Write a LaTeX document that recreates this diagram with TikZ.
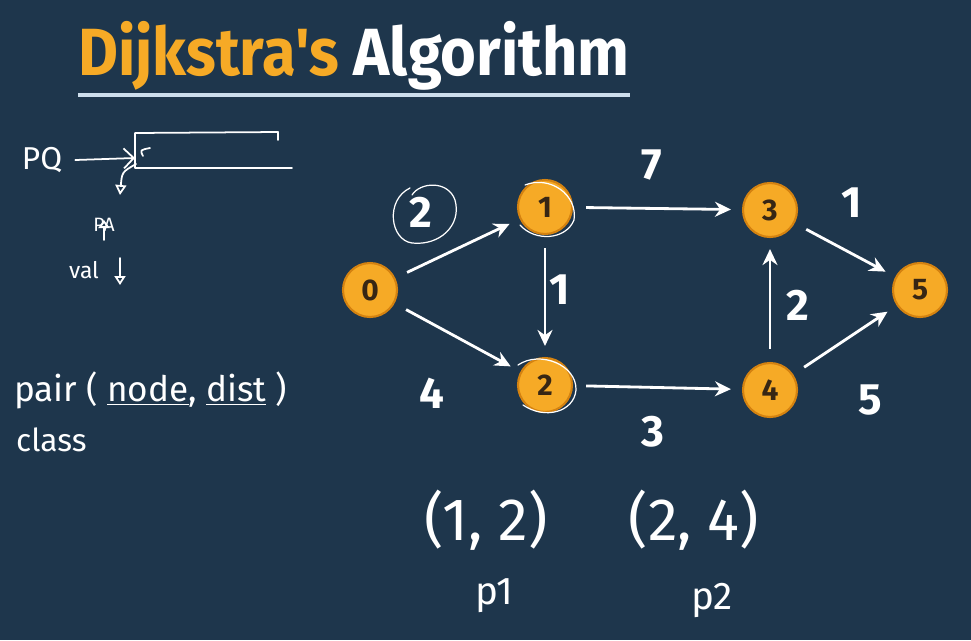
\documentclass[tikz,border=0pt]{standalone}
\usepackage{fontspec}
\setmainfont{Fira Sans}
\newfontfamily\titlefont{Fira Sans}
\usepackage{graphicx}
\usepackage{tikz}
\usetikzlibrary{arrows.meta}
\definecolor{board}{RGB}{30,54,76}
\definecolor{gold}{RGB}{246,170,38}
\definecolor{goldedge}{RGB}{212,130,16}
\definecolor{nodetext}{RGB}{55,38,20}
\definecolor{rule}{RGB}{205,222,236}

\begin{document}
\begin{tikzpicture}[x=0.02cm, y=-0.02cm,
	vertex/.style={circle, fill=gold, draw=goldedge, line width=1.2pt,
		minimum size=1.08cm, inner sep=0pt, text=nodetext,
		font=\bfseries\fontsize{17}{17}\selectfont},
	edge/.style={white, line width=1.6pt, -{Stealth[length=3.2mm,width=3mm]},
		shorten <=0.26cm, shorten >=0.22cm},
	weight/.style={white, font=\bfseries\fontsize{25}{25}\selectfont},
	ink/.style={white, line width=1pt, line cap=round, line join=round},
	hand/.style={white, font=\fontsize{18}{18}\selectfont}]
		% board
		\fill[board] (0,0) rectangle (971,640);
		\useasboundingbox (0,0) rectangle (971,640);
		% title
		\node[anchor=base west, inner sep=0pt, font=\titlefont\bfseries\fontsize{38}{40}\selectfont]
			(title) at (78,75) {\scalebox{0.92}[1]{\textcolor{gold}{Dijkstra's}
				\textcolor{white}{Algorithm}}};
		\draw[rule, line width=2.2pt] (78,95) -- (630,95);
		% priority queue sketch
		\node[hand] (pq) at (42,160) {PQ};
		\coordinate (qin) at (135,158);
		\draw[ink, -{Straight Barb[length=2mm]}] (pq.east) ++(4pt,0) -- (qin);
		\draw[ink] (278,140) -- (278,132) -- (135,133) -- (135,168) -- (292,168);
		\draw[ink] (150,148) .. controls (140,150) .. (143,156);
		\coordinate (qout) at (120,195);
		\draw[ink, -{Triangle[open, length=2mm, width=2.2mm]}] (136,164) .. controls (122,172) .. (qout);
		\node[hand, font=\fontsize{11}{11}\selectfont] (pa) at (104,225) {PA};
		\draw[ink, -{Triangle[open, length=1.6mm]}] (104,240) -- (104,220);
		\node[hand, font=\fontsize{13}{13}\selectfont] (val) at (84,270) {val};
		\draw[ink, -{Triangle[open, length=1.8mm]}] (120,258) -- (120,285);
		% pair class
		\node[hand, anchor=west, font=\fontsize{20}{20}\selectfont] (pair) at (8,390)
			{pair ( \underline{node}, \underline{dist} )};
		\node[hand, anchor=west] (class) at (10,440) {class};
		% graph
		\node[vertex] (n0) at (370,290) {0};
		\node[vertex] (n1) at (545,207) {1};
		\node[vertex] (n2) at (545,385) {2};
		\node[vertex] (n3) at (770,210) {3};
		\node[vertex] (n4) at (770,390) {4};
		\node[vertex] (n5) at (920,290) {5};
		\draw[edge] (n0) -- (n1);
		\draw[edge] (n0) -- (n2);
		\draw[edge] (n1) -- (n3);
		\draw[edge] (n1) -- (n2);
		\draw[edge] (n2) -- (n4);
		\draw[edge] (n4) -- (n3);
		\draw[edge] (n3) -- (n5);
		\draw[edge] (n4) -- (n5);
		% weights
		\node[weight] (w01) at (421,212) {2};
		\node[weight] (w02) at (432,393) {4};
		\node[weight] (w13) at (652,165) {7};
		\node[weight] (w12) at (560,290) {1};
		\node[weight] (w24) at (653,432) {3};
		\node[weight] (w43) at (798,305) {2};
		\node[weight] (w35) at (852,203) {1};
		\node[weight] (w45) at (870,400) {5};
		% marks made while explaining
		\draw[ink, line width=0.7pt] (410,188) .. controls (385,200) and (390,240) .. (412,243)
			.. controls (440,246) and (462,225) .. (455,200)
			.. controls (448,180) and (420,182) .. (412,195);
		\draw[ink, line width=0.7pt] (525,185) .. controls (550,175) and (578,195) .. (574,220)
			.. controls (566,240) and (535,242) .. (520,225);
		\draw[ink, line width=0.7pt] (518,365) .. controls (540,350) and (577,365) .. (576,390)
			.. controls (574,412) and (545,420) .. (523,405);
		% pairs
		\node[hand, font=\fontsize{34}{34}\selectfont] (p1pair) at (486,520) {(1, 2)};
		\node[hand, font=\fontsize{22}{22}\selectfont] (p1) at (494,596) {p1};
		\node[hand, font=\fontsize{34}{34}\selectfont] (p2pair) at (694,520) {(2, 4)};
		\node[hand, font=\fontsize{22}{22}\selectfont] (p2) at (712,600) {p2};
	\end{tikzpicture}
\end{document}
